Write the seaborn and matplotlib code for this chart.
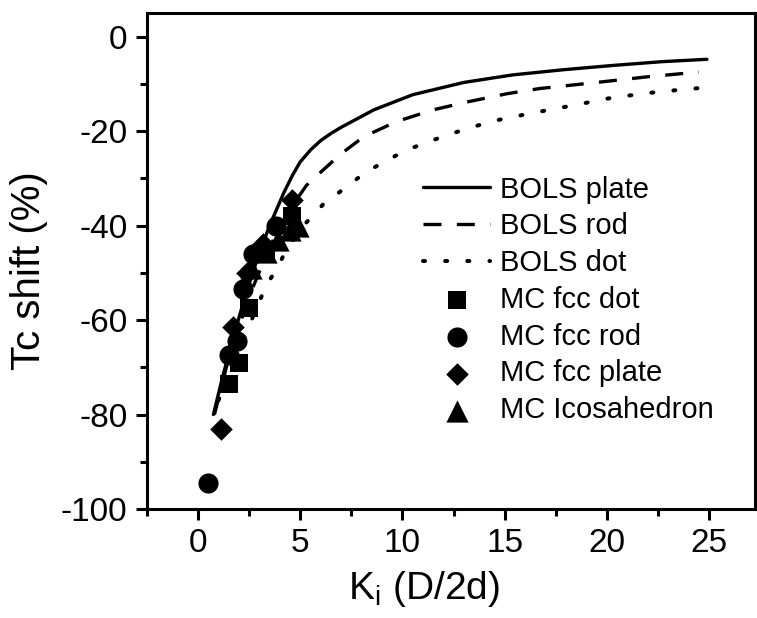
import numpy as np
import pandas as pd
import matplotlib
matplotlib.use("Agg")
import matplotlib.pyplot as plt
import seaborn as sns

sns.set_theme(style="ticks")
plt.rcParams["font.family"] = ["Liberation Sans", "DejaVu Sans"]
plt.rcParams["mathtext.fontset"] = "custom"
plt.rcParams["mathtext.rm"] = "Liberation Sans"
plt.rcParams["mathtext.it"] = "Liberation Sans:italic"
plt.rcParams["axes.unicode_minus"] = False
for key in ("text.color", "axes.labelcolor", "xtick.color", "ytick.color", "axes.edgecolor"):
    plt.rcParams[key] = "black"

# BOLS model curves (K_i, Tc shift %)
plate_k = [0.75, 1.2, 1.7, 2.3, 2.9, 3.5, 4.2, 4.6, 5.0, 5.5, 6.0, 6.5, 7.0, 8.6, 10.5, 13.0, 15.4, 17.9, 20.3, 22.7, 24.9]
plate_t = [-80, -72, -64, -55, -47, -40, -33, -29.5, -26.5, -24.0, -22.0, -20.5, -19.2, -15.5, -12.3, -9.7, -8.1, -7.0, -6.1, -5.3, -4.8]

rod_k = [0.8, 1.5, 2.5, 3.5, 4.5, 5.3, 6.1, 7.0, 8.1, 9.7, 11.5, 13.2, 15.1, 16.7, 19.5, 22.0, 24.5]
rod_t = [-80, -68, -55, -44.5, -36.5, -31.5, -28.3, -24.8, -21.2, -18.0, -15.5, -13.8, -12.1, -11.0, -9.7, -8.5, -7.5]

dot_k = [1.0, 1.6, 2.45, 3.3, 3.9, 4.4, 5.2, 6.1, 7.2, 8.2, 9.2, 10.2, 12.2, 14.3, 16.2, 18.3, 20.3, 22.5, 24.5]
dot_t = [-77, -70, -61.7, -53, -48.7, -44.5, -39.8, -35.6, -32.0, -28.7, -26.3, -24.0, -20.8, -18.0, -16.3, -14.6, -12.9, -11.7, -10.9]

# Monte Carlo results
mc_dot_k = [1.5, 2.0, 2.5, 3.3, 4.6]
mc_dot_t = [-73.5, -69.0, -57.5, -46.0, -38.0]

mc_rod_k = [0.5, 1.5, 1.9, 2.2, 2.7, 3.8]
mc_rod_t = [-94.5, -67.5, -64.5, -53.5, -46.0, -40.0]

mc_plate_k = [1.1, 1.7, 2.4, 3.2, 4.6]
mc_plate_t = [-83.0, -61.5, -50.0, -44.0, -34.5]

mc_ico_k = [2.6, 3.3, 3.9, 4.5, 4.9]
mc_ico_t = [-49.0, -45.5, -43.0, -41.0, -40.0]

fig = plt.figure(figsize=(7.57, 6.18), dpi=100)
ax = fig.add_axes([147 / 757, 1 - 509 / 618, 608 / 757, 496 / 618])

curves = [
    ("BOLS plate", plate_k, plate_t, "-", 2.4),
    ("BOLS rod", rod_k, rod_t, (0, (5.4, 4.6)), 2.4),
    ("BOLS dot", dot_k, dot_t, (0, (0.5, 5.0)), 2.9),
]
for name, k, t, ls, lw in curves:
    df = pd.DataFrame({"k": k, "t": t})
    sns.lineplot(data=df, x="k", y="t", ax=ax, color="black", lw=lw,
                 linestyle=ls, sort=False, estimator=None, label=name,
                 dash_capstyle="round" if name == "BOLS dot" else "butt")

points = [
    ("MC fcc dot", mc_dot_k, mc_dot_t, "s", 13.0),
    ("MC fcc rod", mc_rod_k, mc_rod_t, "o", 14.5),
    ("MC fcc plate", mc_plate_k, mc_plate_t, "D", 11.5),
    ("MC Icosahedron", mc_ico_k, mc_ico_t, "^", 16.0),
]
for name, k, t, m, ms in points:
    df = pd.DataFrame({"k": k, "t": t})
    sns.scatterplot(data=df, x="k", y="t", ax=ax, color="black", marker=m,
                    s=ms ** 2, edgecolor="black", linewidth=0, label=name,
                    zorder=3)

ax.set_xlim(-2.5, 27.25)
ax.set_ylim(-100, 5)
ax.set_xticks([0, 5, 10, 15, 20, 25])
ax.set_xticks(np.arange(-2.5, 27.5, 5), minor=True)
ax.set_yticks([-100, -80, -60, -40, -20, 0])
ax.set_yticks(np.arange(-90, 5, 20), minor=True)
ax.tick_params(axis="both", which="major", direction="out", length=8,
               width=2.2, labelsize=24, pad=6, color="black")
ax.tick_params(axis="both", which="minor", direction="out", length=5,
               width=2.2, color="black")
for sp in ax.spines.values():
    sp.set_linewidth(2.2)
    sp.set_color("black")

ax.set_xlabel(r"K$_\mathrm{i}$ (D/2d)", fontsize=28)
ax.set_ylabel("Tc shift (%)", fontsize=29)
ax.xaxis.set_label_coords(0.455, -0.12)
ax.yaxis.set_label_coords(-0.163, 0.48)

leg = ax.legend(loc="upper left", bbox_to_anchor=(0.454, 0.672), frameon=False,
                fontsize=21, handlelength=2.3, handletextpad=0.35,
                labelspacing=0.3, borderpad=0, borderaxespad=0)

fig.savefig("out.png", dpi=100)
